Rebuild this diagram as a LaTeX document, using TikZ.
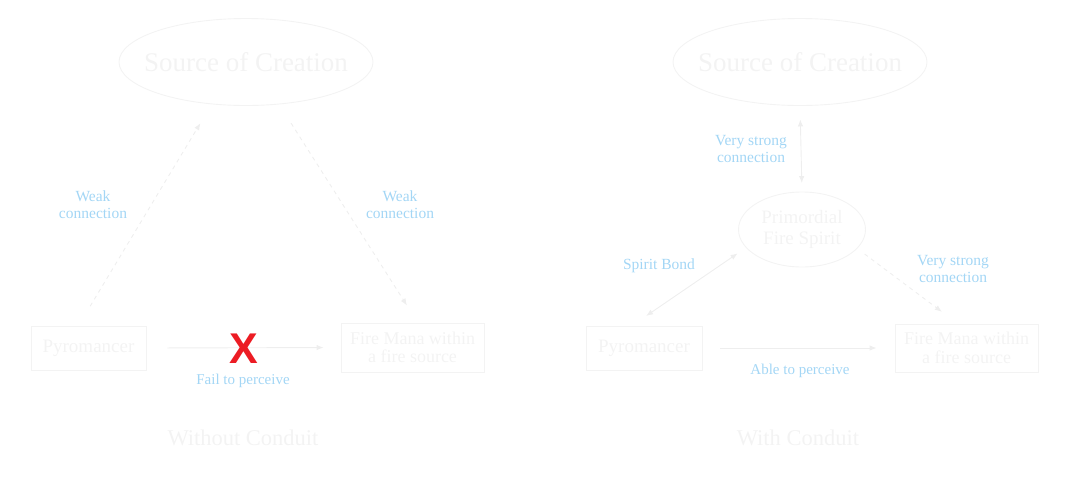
\documentclass[tikz,border=0pt]{standalone}
\usepackage{fontspec}
\setmainfont{Liberation Serif}
\newfontfamily\xfont{Liberation Sans}
\usetikzlibrary{shapes.geometric,arrows.meta}
\definecolor{faint}{HTML}{F3F3F3}
\definecolor{faintline}{HTML}{EEEEEE}
\definecolor{lblue}{HTML}{A3D6F5}
\definecolor{xred}{HTML}{EC1C24}
\tikzset{
  src/.style={ellipse,draw=faint,line width=0.9pt,minimum width=254pt,minimum height=87pt,inner sep=0pt,
    label={[text=faint,font=\fontsize{27}{30}\selectfont]center:#1}},
  spiritnode/.style={ellipse,draw=faint,line width=0.9pt,text=faint,minimum width=127pt,minimum height=75pt,inner sep=0pt,align=center,font=\fontsize{19}{21.5}\selectfont},
  boxnode/.style={rectangle,draw=faint,line width=0.9pt,text=faint,inner sep=0pt,align=center},
  lbl/.style={text=lblue,align=center,font=\fontsize{15.5}{17}\selectfont},
  caption/.style={text=faint,font=\fontsize{22.5}{24}\selectfont},
  conn/.style={draw=faintline,line width=0.9pt},
  dashline/.style={dash pattern=on 4pt off 4pt},
  tip/.style={-{Latex[length=7pt,width=5.5pt]}},
  tips/.style={{Latex[length=7pt,width=5.5pt]}-{Latex[length=7pt,width=5.5pt]}},
}
\begin{document}
\begin{tikzpicture}[x=1pt,y=-1pt]
\useasboundingbox (0,0) rectangle (1070,483);
% ---------- left panel ----------
\node[src={Source of Creation}] (srcA) at (246,62) {};
\node[boxnode,minimum width=115pt,minimum height=44pt,font=\fontsize{19}{20}\selectfont] (pyroA) at (88.5,348) {Pyromancer};
\node[boxnode,minimum width=143pt,minimum height=49pt,font=\fontsize{18}{18.5}\selectfont] (fmA) at (412.5,347.5) {Fire Mana within\\a fire source};
\draw[conn,dashline,tip,shorten <=22.6pt,shorten >=21.9pt] (pyroA.114.9) -- (srcA.231.8);
\draw[conn,dashline,tip,shorten <=22.2pt,shorten >=20.2pt] (srcA.-52.8) -- (fmA.78.5);
\draw[conn,tip,shorten <=21pt,shorten >=17pt] (pyroA.east) -- (fmA.west);
\node[lbl] (wA1) at (93,205) {Weak\\connection};
\node[lbl] (wA2) at (400,205) {Weak\\connection};
\node[text=xred,font=\xfont\bfseries\fontsize{43}{43}\selectfont,inner sep=0pt] (xmark) at (243.5,348.5) {X};
\node[lbl,font=\fontsize{15}{17}\selectfont] (failA) at (243,381) {Fail to perceive};
\node[caption] (capA) at (243,438) {Without Conduit};
% ---------- right panel ----------
\node[src={Source of Creation}] (srcB) at (800,62) {};
\node[spiritnode] (spirit) at (802,229.5) {Primordial\\Fire Spirit};
\node[boxnode,minimum width=116pt,minimum height=44pt,font=\fontsize{19}{20}\selectfont] (pyroB) at (644,348) {Pyromancer};
\node[boxnode,minimum width=143pt,minimum height=48pt,font=\fontsize{18}{18.5}\selectfont] (fmB) at (966.5,348) {Fire Mana within\\a fire source};
\draw[conn,tips,shorten <=13.5pt,shorten >=8.5pt] (srcB.south) -- (spirit.north);
\draw[conn,tips,shorten <=17pt,shorten >=10pt] (pyroB.118.6) -- (spirit.198);
\draw[conn,dashline,tip,shorten <=9.1pt,shorten >=19.6pt] (spirit.-19.4) -- (fmB.110.8);
\draw[conn,tip,shorten <=18pt,shorten >=18pt] (pyroB.east) -- (fmB.west);
\node[lbl] (vsB1) at (751,149) {Very strong\\connection};
\node[lbl] (sbB) at (659,266) {Spirit Bond};
\node[lbl] (vsB2) at (953,269) {Very strong\\connection};
\node[lbl,font=\fontsize{15}{17}\selectfont] (ableB) at (800,371) {Able to perceive};
\node[caption] (capB) at (798,438) {With Conduit};
\end{tikzpicture}
\end{document}
